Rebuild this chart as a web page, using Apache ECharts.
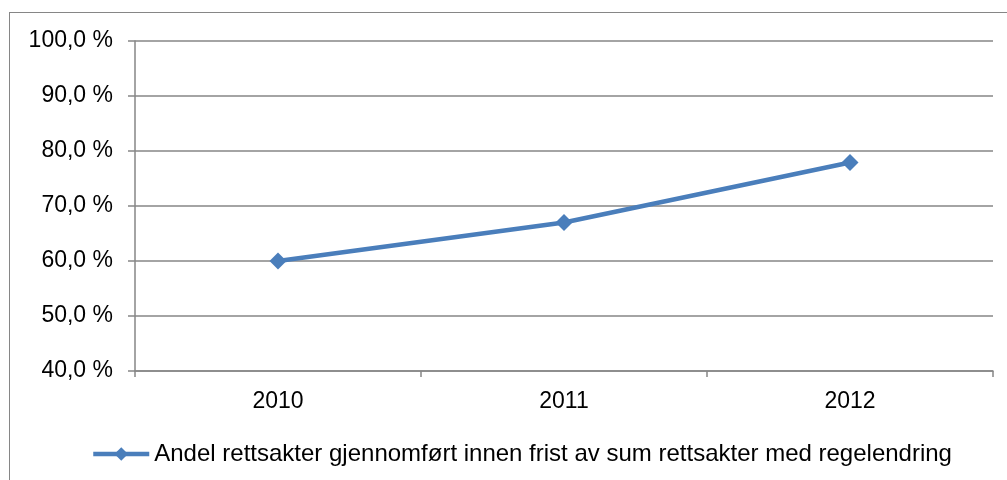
<!DOCTYPE html>
<html>
<head>
<meta charset="utf-8">
<script src="https://cdn.jsdelivr.net/npm/echarts@6/dist/echarts.min.js"></script>
<style>
  html, body { margin: 0; padding: 0; background: #fff; }
  #frame { position: absolute; left: 9px; top: 12px; width: 1100px; height: 600px; border: 1px solid #868686; box-sizing: border-box; }
  #chart { position: absolute; left: 0; top: 0; width: 1007px; height: 480px; }
</style>
</head>
<body>
<div id="frame"></div>
<div id="chart"></div>
<script>
var years = ['2010', '2011', '2012'];
var andel = [60.0, 67.0, 77.9];
var seriesName = 'Andel rettsakter gjennomført innen frist av sum rettsakter med regelendring';

var chart = echarts.init(document.getElementById('chart'));
chart.setOption({
    animation: false,
    textStyle: { fontFamily: 'Liberation Sans, Arial, sans-serif' },
    grid: { left: 135, right: 14, top: 41, bottom: 109 },
    legend: {
        left: 86,
        top: 437,
        itemWidth: 56,
        itemHeight: 17,
        itemGap: 10,
        lineStyle: { width: 4.5 },
        textStyle: { fontSize: 24, color: '#000', fontFamily: 'Liberation Sans, Arial, sans-serif' },
        data: [seriesName]
    },
    xAxis: {
        type: 'category',
        data: years,
        boundaryGap: true,
        axisLine: { lineStyle: { color: '#868686', width: 1.5 } },
        axisTick: { show: true, length: 6, lineStyle: { color: '#868686', width: 1.5 } },
        axisLabel: { fontSize: 23, color: '#000', margin: 19 }
    },
    yAxis: {
        type: 'value',
        min: 40,
        max: 100,
        interval: 10,
        axisLine: { show: true, lineStyle: { color: '#868686', width: 1.5 } },
        axisTick: { show: true, length: 7, lineStyle: { color: '#868686', width: 1.5 } },
        splitLine: { lineStyle: { color: '#868686', width: 1.5 } },
        axisLabel: {
            fontSize: 23,
            color: '#000',
            margin: 22,
            formatter: function (v) { return v.toFixed(1).replace('.', ',') + ' %'; }
        }
    },
    series: [{
        name: seriesName,
        type: 'line',
        data: andel,
        symbol: 'diamond',
        symbolSize: 17,
        lineStyle: { color: '#4A7EBB', width: 4.5 },
        itemStyle: { color: '#4A7EBB' }
    }]
});
</script>
</body>
</html>
